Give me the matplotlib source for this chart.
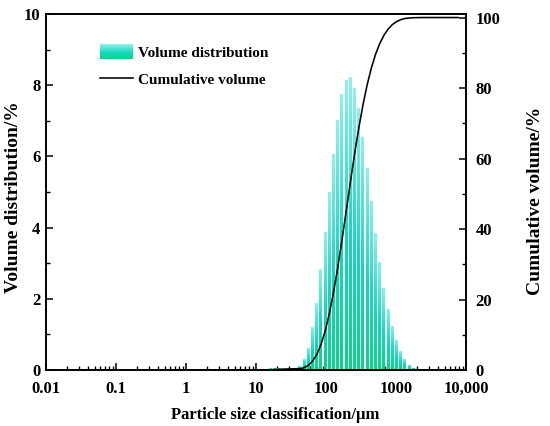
import numpy as np
import matplotlib
matplotlib.use("Agg")
import matplotlib.pyplot as plt
from matplotlib.colors import LinearSegmentedColormap
from matplotlib.patches import Rectangle
from matplotlib.lines import Line2D
from matplotlib.legend_handler import HandlerBase
from matplotlib.ticker import FixedLocator, FixedFormatter, NullFormatter, MultipleLocator

plt.rcParams['font.family'] = ['Liberation Serif', 'DejaVu Serif']
plt.rcParams['font.weight'] = 'bold'

# ---- data ----
bar_sizes = [16.2, 18.6, 21.4, 24.5,
             42.66, 48.98, 56.23, 64.57, 74.13, 85.11, 97.72, 112.2, 128.8,
             147.9, 169.8, 195.0, 223.9, 257.0, 295.1, 338.8, 389.0, 446.7,
             512.9, 588.8, 676.1, 776.2, 891.3, 1023.0, 1175.0, 1349.0,
             1549.0, 1778.0]
bar_values = [0.06, 0.07, 0.07, 0.05,
              0.12, 0.33, 0.63, 1.22, 1.91, 2.84, 3.89, 5.01, 6.09, 7.05,
              7.77, 8.17, 8.24, 7.94, 7.37, 6.57, 5.68, 4.75, 3.85,
              3.04, 2.31, 1.74, 1.25, 0.85, 0.54, 0.32, 0.15, 0.07]

cum_sizes = [0.01, 14.0, 16.2, 18.6, 21.4, 24.5,
             42.66, 48.98, 56.23, 64.57, 74.13, 85.11, 97.72, 112.2, 128.8,
             147.9, 169.8, 195.0, 223.9, 257.0, 295.1, 338.8, 389.0, 446.7,
             512.9, 588.8, 676.1, 776.2, 891.3, 1023.0, 1175.0, 1349.0,
             1549.0, 1778.0, 2500.0, 7700.0]
cum_values = [0.0, 0.0, 0.06, 0.13, 0.20, 0.25,
              0.37, 0.70, 1.33, 2.55, 4.46, 7.30, 11.19, 16.20, 22.29, 29.34,
              37.11, 45.28, 53.52, 61.46, 68.83, 75.40, 81.08, 85.83, 89.68,
              92.72, 95.03, 96.77, 98.02, 98.87, 99.41, 99.73, 99.88, 99.95,
              100.0, 100.0]

x_ticks = [0.01, 0.1, 1, 10, 100, 1000, 10000]
x_ticklabels = ['0.01', '0.1', '1', '10', '100', '1000', '10,000']

# ---- style ----
cmap = LinearSegmentedColormap.from_list(
    'vd', [(0.0, '#06D58A'), (0.45, '#16D8BE'), (1.0, '#8EF1EB')])
half_w = 0.024  # half bar width in decades
fs_tick = 12
fs_xlabel = 12
fs_ylabel = 14

fig = plt.figure(figsize=(5.5, 4.26), dpi=100)
ax = fig.add_axes([46/550, 1 - 370/426, 420/550, 356/426])
ax.set_xscale('log')

grad = np.linspace(0, 1, 256).reshape(-1, 1)
for s, v in zip(bar_sizes, bar_values):
    left = s / 10**half_w
    right = s * 10**half_w
    ax.imshow(grad, extent=(left, right, 0, v), aspect='auto', cmap=cmap,
              origin='lower', zorder=2, interpolation='bilinear')

ax.set_xlim(0.01, 10000)
ax.set_ylim(0, 10)
ax.set_aspect('auto')

ax.xaxis.set_major_locator(FixedLocator(x_ticks))
ax.xaxis.set_major_formatter(FixedFormatter(x_ticklabels))
minors = [m * 10.0**e for e in range(-2, 4) for m in range(2, 10)]
ax.xaxis.set_minor_locator(FixedLocator(minors))
ax.xaxis.set_minor_formatter(NullFormatter())
ax.yaxis.set_major_locator(MultipleLocator(2))
ax.yaxis.set_minor_locator(MultipleLocator(1))

ax2 = ax.twinx()
ax2.set_ylim(0, 101)
ax2.yaxis.set_major_locator(FixedLocator([0, 20, 40, 60, 80, 100]))
ax2.yaxis.set_minor_locator(FixedLocator([10, 30, 50, 70, 90]))
ax2.plot(cum_sizes, cum_values, color='black', lw=1.15, zorder=3)
ax2.set_xlim(0.01, 10000)

for a in (ax, ax2):
    for sp in a.spines.values():
        sp.set_linewidth(1.2)
    a.tick_params(which='major', direction='in', length=5, width=1.1,
                  labelsize=fs_tick)
    a.tick_params(which='minor', direction='in', length=3, width=1.0)
ax.tick_params(axis='x', which='both', top=False, pad=8)
ax.tick_params(axis='y', which='both', right=False, pad=4)
ax2.tick_params(axis='y', which='both', left=False, pad=7)

for lab in ax.get_xticklabels() + ax.get_yticklabels() + ax2.get_yticklabels():
    lab.set_fontweight('bold')

ax.set_xlabel('Particle size classification/μm', fontsize=fs_xlabel,
              fontweight='bold')
ax.xaxis.set_label_coords(0.545, -0.105)
ax.set_ylabel('Volume distribution/%', fontsize=fs_ylabel, fontweight='bold')
ax.yaxis.set_label_coords(-0.058, 0.485)
ax2.set_ylabel('Cumulative volume/%', fontsize=fs_ylabel, fontweight='bold',
               rotation=90)
ax2.yaxis.set_label_coords(1.145, 0.475)


class HandlerGradient(HandlerBase):
    def create_artists(self, legend, orig_handle, xdescent, ydescent,
                       width, height, fontsize, trans):
        n = 30
        arts = []
        for k in range(n):
            r = Rectangle((-xdescent, -ydescent + height * k / n), width,
                          height / n * 1.08, facecolor=cmap((k + 0.5) / n),
                          edgecolor='none', transform=trans)
            arts.append(r)
        return arts


proxy = Rectangle((0, 0), 1, 1)
line_proxy = Line2D([], [], color='black', lw=1.15)
leg = ax2.legend([proxy, line_proxy], ['Volume distribution', 'Cumulative volume'],
                 handler_map={proxy: HandlerGradient()},
                 loc='upper left', bbox_to_anchor=(0.129, 0.915), frameon=False,
                 borderpad=0, borderaxespad=0, handlelength=2.15, handleheight=1.1,
                 handletextpad=0.35, labelspacing=0.75,
                 prop={'family': 'Liberation Serif', 'weight': 'bold', 'size': 11})

fig.savefig('out.png', dpi=100)
